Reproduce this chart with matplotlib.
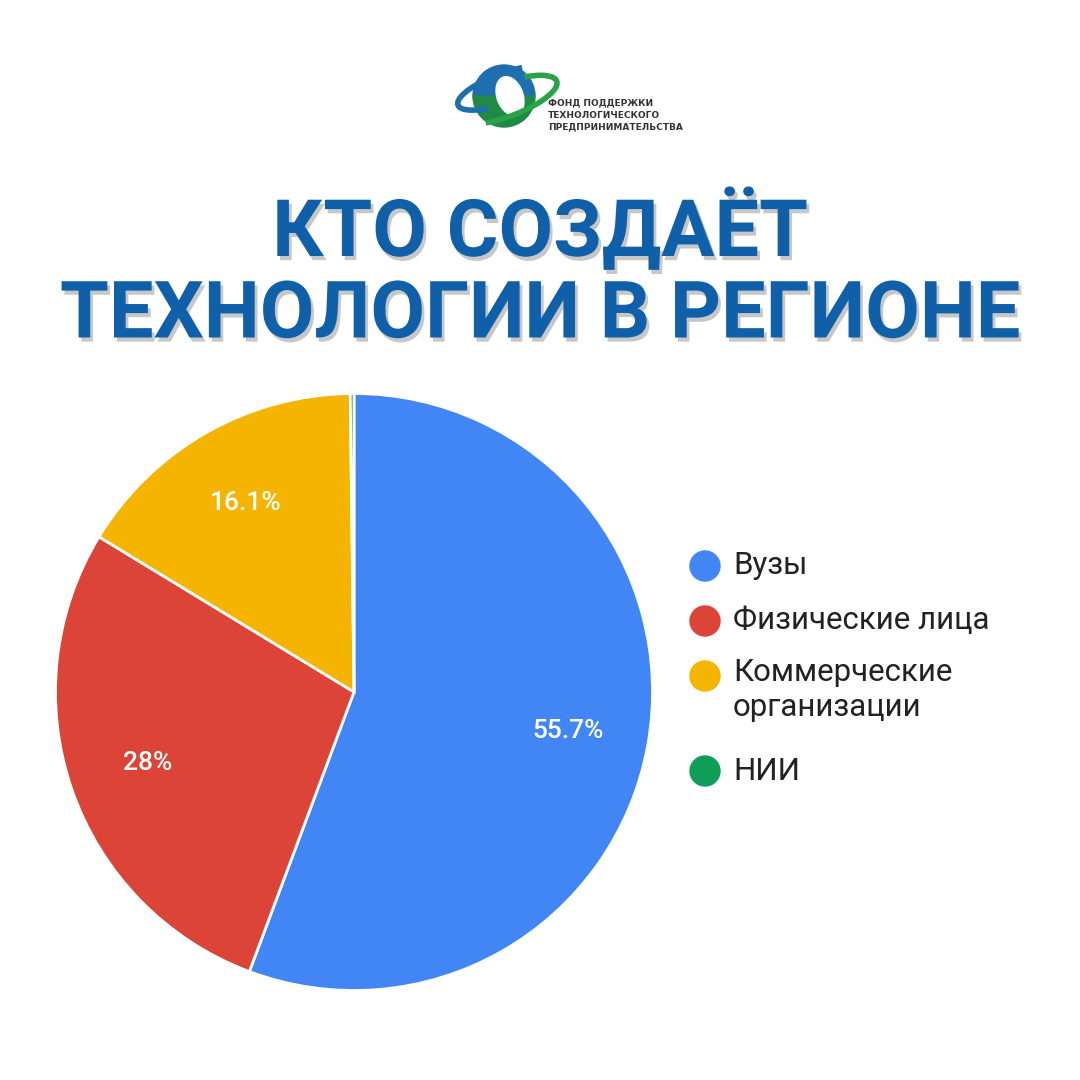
import numpy as np
import matplotlib.pyplot as plt
import matplotlib.patheffects as pe
from matplotlib.patches import Circle, Wedge, Arc, Ellipse

labels = ["Вузы", "Физические лица", "Коммерческие\nорганизации", "НИИ"]
values = [55.7, 28.0, 16.1, 0.2]
pct_text = ["55.7%", "28%", "16.1%", ""]
colors = ["#4285f4", "#db4437", "#f4b400", "#0f9d58"]

title_lines = ["КТО СОЗДАЁТ", "ТЕХНОЛОГИИ В РЕГИОНЕ"]
logo_lines = ["ФОНД ПОДДЕРЖКИ", "ТЕХНОЛОГИЧЕСКОГО", "ПРЕДПРИНИМАТЕЛЬСТВА"]

W = 1080
fig = plt.figure(figsize=(10.8, 10.8), dpi=100)
fig.patch.set_facecolor("white")

# logo, drawn in pixel coords
lax = fig.add_axes([0, 0, 1, 1])
lax.set_xlim(0, W)
lax.set_ylim(W, 0)
lax.axis("off")
lax.add_patch(Wedge((504, 96), 31, 180, 360, color="#1f6fb0"))
lax.add_patch(Wedge((504, 96), 31, 0, 180, color="#1e8a45"))
lax.add_patch(Ellipse((510, 96), 26, 40, angle=-20, color="white"))
lax.add_patch(Arc((505, 88), 100, 30, angle=-20, theta1=150, theta2=330, color="#1f6fb0", lw=4))
lax.add_patch(Arc((505, 100), 110, 34, angle=-20, theta1=-30, theta2=150, color="#2aa24a", lw=4))
for i, t in enumerate(logo_lines):
    lax.text(548, 103 + i * 12, t, fontsize=6.5, fontweight="bold", color="#333333",
             family="DejaVu Sans", va="center", ha="left")

# title
for t, y in zip(title_lines, [230, 316]):
    lax.text(540, y, t, fontsize=57, fontweight="bold", color="#0f60a8", family="Roboto",
             ha="center", va="center",
             path_effects=[pe.withSimplePatchShadow(offset=(2, -3), shadow_rgbFace="#000000", alpha=0.22)])

# pie
ax = fig.add_axes([54 / W, 1 - 992 / W, 600 / W, 600 / W])
wedges, texts = ax.pie(values, colors=colors, startangle=90, counterclock=False,
                       wedgeprops=dict(edgecolor="white", linewidth=2))
for w, t in zip(wedges, pct_text):
    if not t:
        continue
    ang = np.deg2rad((w.theta1 + w.theta2) / 2)
    ax.text(0.73 * np.cos(ang), 0.73 * np.sin(ang), t, color="white", fontsize=19,
            ha="center", va="center", family="Roboto", fontweight="medium")
ax.set_xlim(-1.005, 1.005)
ax.set_ylim(-1.005, 1.005)
ax.set_aspect("equal")

# legend
leg_y = [566, 621, 676, 771]
text_y = [566, 621, 690, 771]
for c, lab, y, ty in zip(colors, labels, leg_y, text_y):
    lax.add_patch(Circle((705, y), 15, color=c))
    lax.text(733, ty, lab, fontsize=22.5, color="#222222", family="Roboto",
             ha="left", va="center", linespacing=1.3)

fig.savefig("out.png", dpi=100)
